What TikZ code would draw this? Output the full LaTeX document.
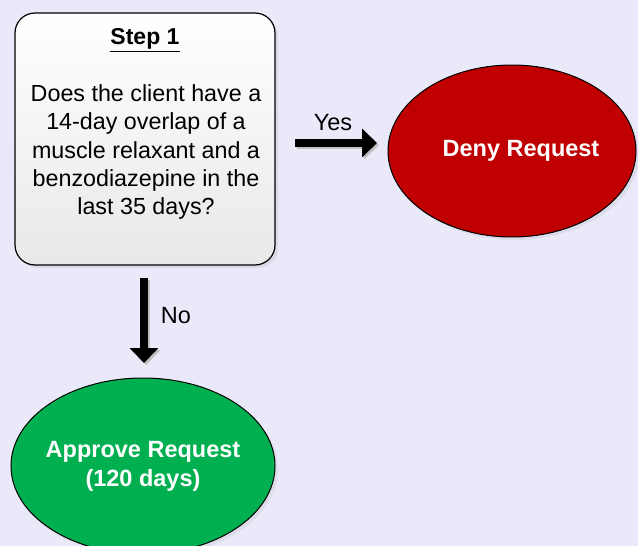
\documentclass[tikz,border=0pt]{standalone}
\usepackage{fontspec}
\setmainfont{Liberation Sans}
\usetikzlibrary{shapes.geometric,arrows.meta,shadows}
\definecolor{bgcol}{RGB}{233,233,250}
\definecolor{denycol}{RGB}{192,0,0}
\definecolor{apprcol}{RGB}{0,176,80}
\tikzset{
  qbox/.style={draw=black, line width=1.2pt, rounded corners=20pt, top color=white, bottom color=black!9,
    minimum width=260pt, minimum height=252pt, drop shadow={opacity=0.15, shadow xshift=3pt, shadow yshift=-3pt}},
  outcome/.style={ellipse, draw=black, line width=1pt, inner sep=0pt,
    drop shadow={opacity=0.12, shadow xshift=3pt, shadow yshift=-3pt}},
  outtext/.style={text=white, font=\fontsize{23.5}{29}\selectfont\bfseries, align=center, inner sep=0pt},
  bigarrow/.style={line width=8pt, draw=black, -{Triangle[length=15pt,width=28pt]},
    preaction={draw=black!25, line width=8pt, transform canvas={xshift=2pt,yshift=-2pt}, -{Triangle[length=15pt,width=28pt]}}},
  lbl/.style={font=\fontsize{23.5}{28}\selectfont}
}
\begin{document}
\begin{tikzpicture}[x=1pt,y=-1pt]
\useasboundingbox (0,0) rectangle (638,546);
\fill[bgcol] (0,0) rectangle (638,546);
\clip (0,0) rectangle (638,546);
\node[qbox] (box) at (145,139) {};
\node[font=\fontsize{23}{28}\selectfont\bfseries] (title) at (145,40) {\underline{Step 1}};
\node[align=center, font=\fontsize{23.3}{28.3}\selectfont, inner sep=0pt] (q) at (146,152) {Does the client have a\\14-day overlap of a\\muscle relaxant and a\\benzodiazepine in the\\last 35 days?};
\node[outcome, fill=denycol, minimum width=248pt, minimum height=172pt] (deny) at (512,151) {};
\node[outtext] (denytext) at ([xshift=9pt]deny.center) {Deny Request};
\node[outcome, fill=apprcol, minimum width=264pt, minimum height=176pt] (appr) at (143,466) {};
\node[outtext] (apprtext) at (appr.center) {Approve Request\\(120 days)};
\coordinate (ys) at (295,143);
\coordinate (ye) at (377,143);
\coordinate (ns) at (144,278);
\coordinate (ne) at (144,363);
\draw[bigarrow] (ys) -- (ye);
\draw[bigarrow] (ns) -- (ne);
\node[lbl] (yes) at (333,123) {Yes};
\node[lbl] (no) at (176,316) {No};
\end{tikzpicture}
\end{document}
